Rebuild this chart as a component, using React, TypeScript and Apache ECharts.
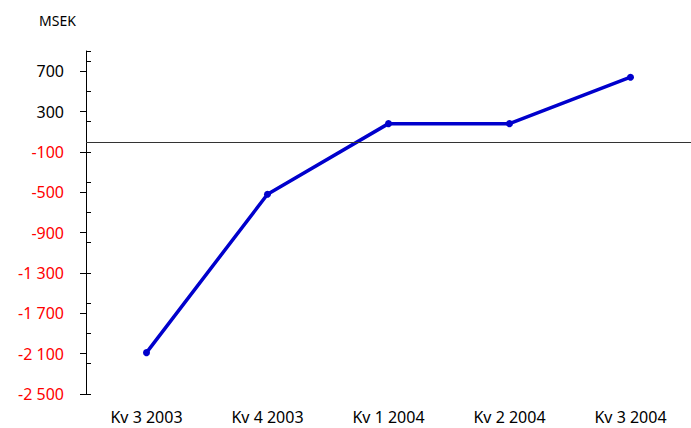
import React, { useEffect, useRef } from "react";
import * as echarts from "echarts";

const categories = ["Kv 3 2003", "Kv 4 2003", "Kv 1 2004", "Kv 2 2004", "Kv 3 2004"];
const values = [-2090, -520, 180, 180, 640];
const yMin = -2500;
const yMax = 900;
const majorStep = 400;
const minorStep = 300;
const unitLabel = "MSEK";

const FONT = "'Noto Sans', 'Open Sans', sans-serif";

function fmt(v: number): string {
  const s = Math.abs(v).toString().replace(/\B(?=(\d{3})+(?!\d))/g, " ");
  return (v < 0 ? "-" : "") + s;
}

export default function App() {
  const ref = useRef<HTMLDivElement>(null);
  useEffect(() => {
    if (!ref.current) return;
    const chart = echarts.init(ref.current, undefined, { renderer: "svg" });
    chart.setOption({
      animation: false,
      backgroundColor: "#ffffff",
      graphic: [
        {
          type: "text",
          left: 39,
          top: 13,
          style: { text: unitLabel, font: `14px ${FONT}`, fill: "#000" },
        },
      ],
      grid: { left: 86, top: 51, width: 607, bottom: 34, containLabel: false },
      xAxis: {
        type: "category",
        data: categories,
        boundaryGap: true,
        axisLine: { show: false },
        axisTick: { show: false },
        axisLabel: { color: "#000", fontSize: 16, fontFamily: FONT, margin: 15 },
        splitLine: { show: false },
      },
      yAxis: [
        {
          type: "value",
          min: yMin,
          max: yMax,
          interval: majorStep,
          axisLine: { show: true, lineStyle: { color: "#000", width: 1 } },
          axisTick: { show: true, length: 6, lineStyle: { color: "#000" } },
          axisLabel: {
            fontSize: 16,
            fontFamily: FONT,
            margin: 22,
            formatter: (v: number) => fmt(v),
            color: (v: any) => (Number(v) < 0 ? "#ff0000" : "#000000"),
            showMaxLabel: false,
          },
          splitLine: { show: false },
        },
        {
          type: "value",
          position: "left",
          min: yMin,
          max: yMax,
          interval: minorStep,
          axisLine: { show: false },
          axisTick: { show: true, inside: true, length: 5, lineStyle: { color: "#000" } },
          axisLabel: { show: false },
          splitLine: { show: false },
        },
      ],
      series: [
        {
          type: "line",
          data: values,
          yAxisIndex: 0,
          symbol: "circle",
          symbolSize: 7,
          lineStyle: { color: "#0000cc", width: 3.5 },
          itemStyle: { color: "#0000cc" },
          markLine: {
            silent: true,
            symbol: ["none", "none"],
            label: { show: false },
            lineStyle: { color: "#333333", width: 1, type: "solid" },
            data: [{ yAxis: 0 }],
          },
        },
      ],
    });
    return () => chart.dispose();
  }, []);
  return <div ref={ref} style={{ width: 691, height: 428, position: "absolute", left: 0, top: 0 }} />;
}
